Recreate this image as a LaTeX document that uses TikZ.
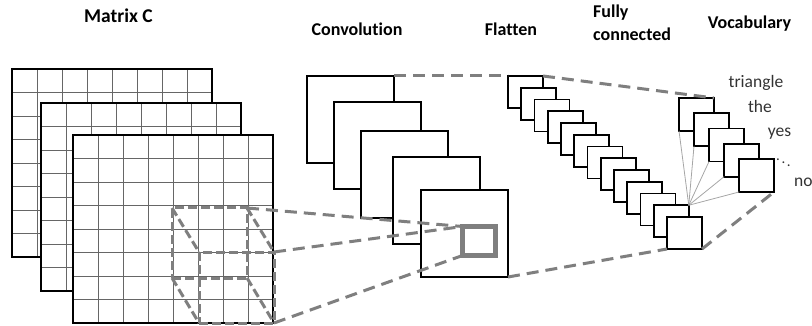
\documentclass[tikz,border=0pt]{standalone}
\usepackage{fontspec}
\setmainfont[Ligatures=NoCommon]{Carlito}
\definecolor{dashgray}{RGB}{127,127,127}
\begin{document}
\begin{tikzpicture}[x=1pt,y=-1pt,
  title/.style={font=\fontsize{18}{22.5}\selectfont\bfseries, text=black, inner sep=0pt},
  word/.style={font=\fontsize{17.5}{21}\selectfont, text=black!80, inner sep=0pt},
  box/.style={draw=black, line width=1.7pt, fill=white, inner sep=0pt, outer sep=0pt, anchor=north west},
  gridbox/.style={fill=white, inner sep=0pt, outer sep=0pt, anchor=north west, minimum width=200pt, minimum height=188pt},
  cubebox/.style={draw=dashgray, line width=3pt, dash pattern=on 9pt off 4pt, inner sep=0pt, outer sep=0pt, anchor=north west},
  graybox/.style={draw=dashgray, line width=5pt, inner sep=0pt, outer sep=0pt, anchor=north west},
  link/.style={draw=dashgray, line width=3pt, dash pattern=on 12pt off 7pt},
  cubeline/.style={draw=dashgray, line width=3pt, dash pattern=on 9pt off 4pt},
  fan/.style={draw=black!35, line width=0.8pt},
  gridline/.style={draw=black!60, line width=0.8pt},
  gridframe/.style={draw=black, line width=1.4pt}]

\useasboundingbox (0,0) rectangle (812,326);

% matrices
\foreach \gx/\gy/\nm in {12/69/g1, 41/103/g2, 73/135/g3}{
  \node[gridbox] (\nm) at (\gx,\gy) {};
  \foreach \i in {1,...,7}{
    \draw[gridline] (\gx+25*\i,\gy) -- ++(0,188);
    \draw[gridline] (\gx,\gy+23.5*\i) -- ++(200,0);
  }
  \draw[gridframe] (\nm.north west) rectangle (\nm.south east);
}

% cube on matrix
\node[cubebox, minimum width=75pt, minimum height=70pt] (cf) at (172,208) {};
\node[cubebox, minimum width=75pt, minimum height=71pt] (cb) at (199,252) {};
\draw[cubeline] (cf.north west) -- (cb.north west);
\draw[cubeline] (cf.north east) -- (cb.north east);
\draw[cubeline] (cf.south west) -- (cb.south west);
\draw[cubeline] (cf.south east) -- (cb.south east);

% convolution
\foreach \x/\y [count=\i] in {307/76, 334/102, 361/131, 393/157, 421/190}{
  \node[box, minimum width=87pt, minimum height=87pt] (c\i) at (\x,\y) {};
}
\node[graybox, minimum width=33pt, minimum height=29pt] (k) at (462.5,226.5) {};

% flatten
\foreach \i in {1,...,13}{
  \node[box, minimum width=35pt, minimum height=32pt] (f\i) at ({508+13.25*(\i-1)},{76+11.75*(\i-1)}) {};
}

% vocabulary
\foreach \i in {1,...,5}{
  \node[box, minimum width=35pt, minimum height=33pt] (v\i) at ({679+15*(\i-1)},{98+15.25*(\i-1)}) {};
}

% fan
\foreach \i in {1,...,5}{
  \draw[fan] (f12.north east) -- (v\i.south west);
}

% dashed links
\draw[link] (cf.north east) -- (k.north west);
\draw[link] (cb.north east) -- (k.north west);
\draw[link] (cb.south east) -- (k.south west);
\draw[link] (c1.north east) -- (f1.north west);
\draw[link] (c5.south east) -- (f13.south west);
\draw[link] (f1.north east) -- (v1.north east);
\draw[link] (f13.south east) -- (v5.south east);

% titles
\node[title, anchor=base, font=\fontsize{19.5}{22.5}\selectfont\bfseries] (tm) at (118.5,23) {Matrix C};
\node[title, anchor=base] (tc) at (357,36) {Convolution};
\node[title, anchor=base] (tf) at (511,36) {Flatten};
\node[title, anchor=north west, align=left] (tfc) at (593,5) {Fully\\connected};
\node[title, anchor=base] (tv) at (749.5,29) {Vocabulary};

% words
\node[word, anchor=base] (w1) at (756,88) {triangle};
\node[word, anchor=base] (w2) at (760,113) {the};
\node[word, anchor=base] (w3) at (779.5,137) {yes};
\node[word, anchor=center, font=\fontsize{15}{15}\selectfont] (w4) at (783.5,160) {$\ddots$};
\node[word, anchor=base west] (w5) at (794,186) {no};
\end{tikzpicture}
\end{document}
